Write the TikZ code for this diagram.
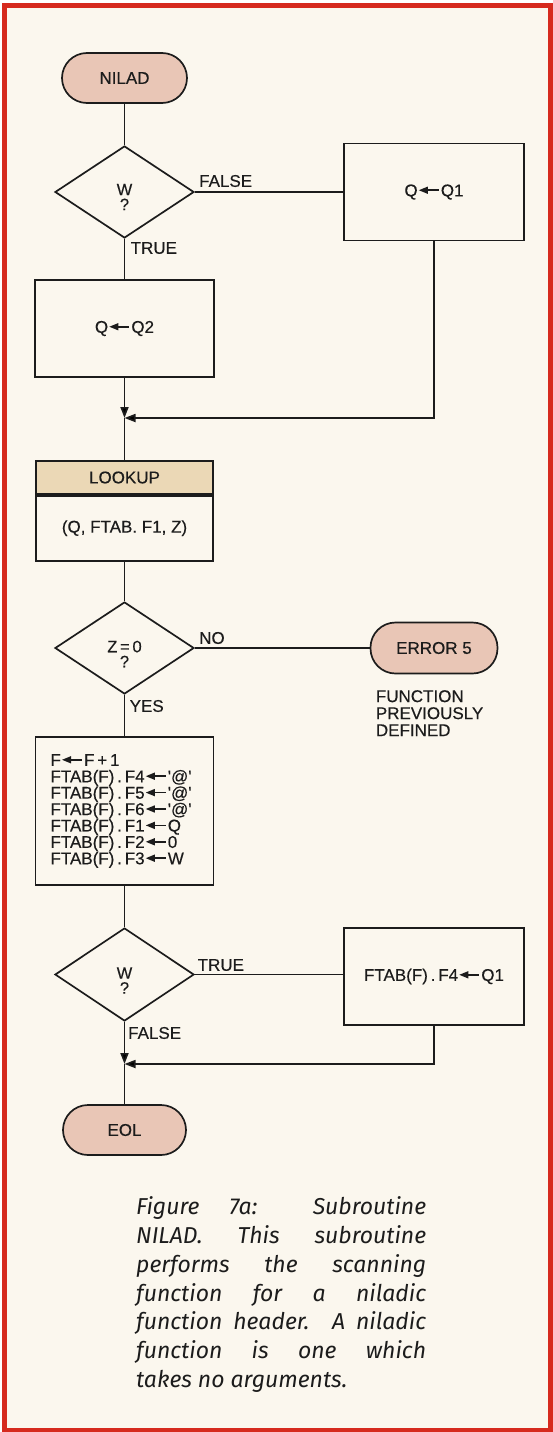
\documentclass[tikz,border=0pt]{standalone}
\usepackage{fontspec}
\setmainfont{Liberation Sans}[FakeBold=0.35]
\newfontfamily\capfont{Fira Sans}
\usetikzlibrary{shapes.geometric,arrows.meta,calc}
\definecolor{cream}{HTML}{FBF7EE}
\definecolor{bordred}{HTML}{D62A1E}
\definecolor{pillfill}{HTML}{E9C6B6}
\definecolor{tanfill}{HTML}{EBD8B6}
\definecolor{ink}{HTML}{1C1C1C}
\newcommand\flab{\fontsize{17}{17}\selectfont}
\newcommand\dlab{\fontsize{16.5}{15}\selectfont}
\newcommand\boxfont{\fontsize{17}{16.4}\selectfont}
\newcommand\la{\kern1.2pt\tikz[baseline=0pt]{\fill[ink] (0pt,6.1pt) -- (9pt,9.8pt) -- (9pt,2.4pt) -- cycle; \draw[ink, line width=1.6pt] (8pt,6.1pt) -- (20pt,6.1pt);}\kern1.2pt}
\newcommand\atq{\textquotesingle @\textquotesingle}
\begin{document}
\begin{tikzpicture}[x=1pt,y=-1pt,
  inkline/.style={draw=ink, line width=1.7pt},
  term/.style={inkline, fill=pillfill, rectangle, rounded corners=25pt, minimum height=50pt, inner sep=0pt, font=\flab, text=ink},
  decis/.style={inkline, diamond, minimum width=139pt, minimum height=92pt, inner sep=0pt, aspect=1.5},
  dtext/.style={font=\dlab, align=center, inner sep=0pt, text=ink},
  proc/.style={inkline, rectangle, inner sep=0pt, font=\flab, text=ink},
  lbl/.style={anchor=west, inner sep=0pt, font=\flab, text=ink},
  conn/.style={draw=ink, line width=1.7pt},
  arr/.style={conn, -{Triangle[length=11pt,width=8pt]}},
]
\useasboundingbox (0,0) rectangle (553,1432);
\fill[white] (0,0) rectangle (553,1432);
\draw[bordred, line width=4.5pt, fill=cream] (4.5,5.5) rectangle (550.5,1429.8);

% nodes
\node[term, minimum width=125pt] (nilad) at (124.5,78) {NILAD};
\node[decis] (d1) at (124.5,192) {};
\node[dtext] (d1t) at ([yshift=-5pt]d1.center) {W\\?};
\node[proc, minimum width=180pt, minimum height=97pt] (q1) at (434,192) {Q\la Q1};
\node[proc, minimum width=179pt, minimum height=97pt] (q2) at (124.5,328.5) {Q\la Q2};
\coordinate (j1) at (124.5,418);
\node[proc, fill=tanfill, minimum width=177pt, minimum height=33pt] (lkh) at (124.5,477.5) {LOOKUP};
\node[proc, minimum width=177pt, minimum height=65pt, anchor=north] (lkb) at (lkh.south) {(Q, FTAB.\ F1, Z)};
\node[decis] (d2) at (124.5,648) {};
\node[dtext] (d2t) at ([yshift=-6pt]d2.center) {Z\,=\,0\\?};
\node[term, minimum width=127pt, minimum height=51pt] (err) at (434,648) {ERROR 5};
\node[lbl, anchor=north west, align=left] (note) at (375.7,690) {FUNCTION\\PREVIOUSLY\\DEFINED};
\node[proc, minimum width=178pt, minimum height=148pt, text width=148pt, inner xsep=15pt, align=left, font=\boxfont] (b3) at (124.5,811)
  {F\la F\,+\,1\\FTAB(F)\,.\,F4\la\atq\\FTAB(F)\,.\,F5\la\atq\\FTAB(F)\,.\,F6\la\atq\\FTAB(F)\,.\,F1\la Q\\FTAB(F)\,.\,F2\la 0\\FTAB(F)\,.\,F3\la W};
\node[decis, minimum height=93pt] (d3) at (124.5,974.5) {};
\node[dtext] (d3t) at ([yshift=-6pt]d3.center) {W\\?};
\node[proc, minimum width=180pt, minimum height=97pt] (b4) at (434,976.5) {FTAB(F)\,.\,F4\la Q1};
\coordinate (j2) at (124.5,1064);
\node[term, minimum width=123pt] (eol) at (124.5,1130) {EOL};

% labels
\node[lbl] (lf1) at (199,181) {FALSE};
\node[lbl] (lt1) at (130.5,248) {TRUE};
\node[lbl] (lno) at (199,638) {NO};
\node[lbl] (lyes) at (129.5,706) {YES};
\node[lbl] (lt3) at (197.5,965) {TRUE};
\node[lbl] (lf3) at (128,1033) {FALSE};

% connectors
\draw[conn] (nilad) -- (d1);
\draw[conn] (d1.east) -- (d1.east -| q1.west);
\draw[conn] (d1) -- (q2);
\draw[arr] (q2) -- (j1);
\draw[arr] (q1.south) |- (j1);
\draw[conn] (j1) -- (lkh);
\draw[conn] (lkb) -- (d2);
\draw[conn] (d2.east) -- (d2.east -| err.west);
\draw[conn] (d2) -- (b3);
\draw[conn] (b3) -- (d3);
\draw[conn] (d3.east) -- (d3.east -| b4.west);
\draw[arr] (d3) -- (j2);
\draw[arr] (b4.south) |- (j2);
\draw[conn] (j2) -- (eol);

% caption
\node[anchor=north west, inner sep=0pt, align=left, font=\capfont\itshape\fontsize{23}{28.8}\selectfont, text=ink] (cap) at (136,1196.5)
  {\makebox[290pt][s]{Figure 7a: Subroutine}\\
   \makebox[290pt][s]{NILAD. This subroutine}\\
   \makebox[290pt][s]{performs the scanning}\\
   \makebox[290pt][s]{function for a niladic}\\
   \makebox[290pt][s]{function header. A niladic}\\
   \makebox[290pt][s]{function is one which}\\
   takes no arguments.};
\end{tikzpicture}
\end{document}
